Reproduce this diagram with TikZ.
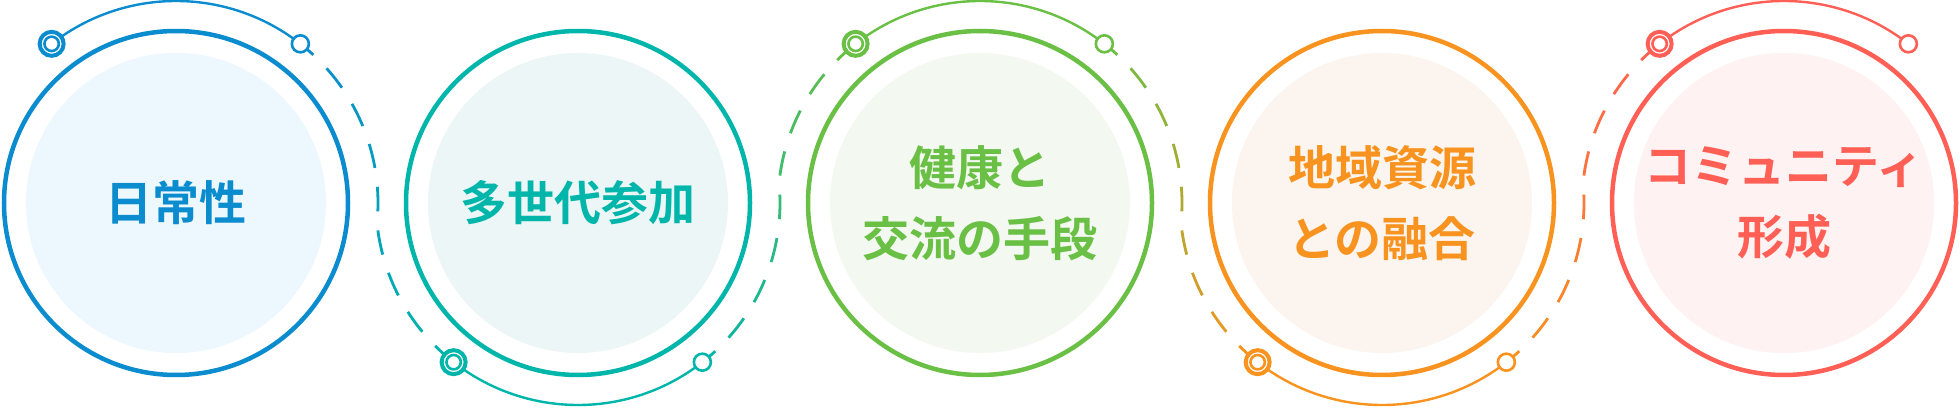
\documentclass[tikz,border=0pt]{standalone}
\usepackage{fontspec}
\newfontfamily\jpfont{Noto Sans CJK JP}[BoldFont={Noto Sans CJK JP Bold}]
\usetikzlibrary{positioning,backgrounds}

\definecolor{ink1}{HTML}{0A8CCF}
\definecolor{ink2}{HTML}{00B5AA}
\definecolor{ink3}{HTML}{6ABF45}
\definecolor{ink4}{HTML}{F7931E}
\definecolor{ink5}{HTML}{FF5F55}
\definecolor{tint1}{HTML}{EDF7FE}
\definecolor{tint2}{HTML}{ECF6F6}
\definecolor{tint3}{HTML}{F3F8F1}
\definecolor{tint4}{HTML}{FCF5EF}
\definecolor{tint5}{HTML}{FFF2F2}

\begin{document}
\begin{tikzpicture}[x=0.5pt,y=0.5pt,
    disc/.style={circle,fill=#1,minimum size=150pt,inner sep=0pt,align=center,
      font=\jpfont\bfseries\fontsize{23.5pt}{35.5pt}\selectfont},
    ring/.style={circle,draw=#1,line width=2.25pt,minimum size=172pt,inner sep=0pt},
    orbit/.style={draw=#1,line width=1.2pt},
    pin/.style={circle,draw=#1,fill=white,line width=1.3pt,minimum size=8.5pt,inner sep=0pt},
    hub/.style={circle,draw=#1,fill=white,line width=2pt,minimum size=12pt,inner sep=0pt,
      path picture={\draw[#1,line width=1.3pt] (path picture bounding box.center) circle[radius=3.6pt];}}]
    \useasboundingbox (0,-204) rectangle (1960,203);

    % Discs with labels
    \node[disc=tint1,text=ink1] (txt1) at (176,0) {日常性};
    \node[disc=tint2,text=ink2] (txt2) at (578,0) {多世代参加};
    \node[disc=tint3,text=ink3] (txt3) at (980,0) {健康と\\交流の手段};
    \node[disc=tint4,text=ink4] (txt4) at (1382,0) {地域資源\\との融合};
    \node[disc=tint5,text=ink5] (txt5) at (1784,0) {コミュニティ\\形成};

    % Rings
    \node[ring=ink1] (ring1) at (txt1) {};
    \node[ring=ink2] (ring2) at (txt2) {};
    \node[ring=ink3] (ring3) at (txt3) {};
    \node[ring=ink4] (ring4) at (txt4) {};
    \node[ring=ink5] (ring5) at (txt5) {};

    % Orbit ends
    \node[hub=ink1] (hub1) at ([shift={(128:202)}]ring1.center) {};
    \node[pin=ink1] (pin1) at ([shift={(52:202)}]ring1.center) {};
    \node[hub=ink2] (hub2) at ([shift={(232:202)}]ring2.center) {};
    \node[pin=ink2] (pin2) at ([shift={(308:202)}]ring2.center) {};
    \node[hub=ink3] (hub3) at ([shift={(128:202)}]ring3.center) {};
    \node[pin=ink3] (pin3) at ([shift={(52:202)}]ring3.center) {};
    \node[hub=ink4] (hub4) at ([shift={(232:202)}]ring4.center) {};
    \node[pin=ink4] (pin4) at ([shift={(308:202)}]ring4.center) {};
    \node[hub=ink5] (hub5) at ([shift={(128:202)}]ring5.center) {};
    \node[pin=ink5] (pin5) at ([shift={(52:202)}]ring5.center) {};

    \begin{scope}[on background layer]
      \fill[white] (0,-204) rectangle (1960,203);
      % Solid orbits
      \draw[orbit=ink1] (hub1.center) arc[start angle=128,end angle=52,radius=101pt];
      \draw[orbit=ink2] (hub2.center) arc[start angle=232,end angle=308,radius=101pt];
      \draw[orbit=ink3] (hub3.center) arc[start angle=128,end angle=52,radius=101pt];
      \draw[orbit=ink4] (hub4.center) arc[start angle=232,end angle=308,radius=101pt];
      \draw[orbit=ink5] (hub5.center) arc[start angle=128,end angle=52,radius=101pt];

      % Dashed links from pin to next hub, colour blends along the way
      \foreach \i/\j/\sg in {1/2/1,2/3/-1,3/4/1,4/5/-1}
        \foreach \s in {-2.2,10.2,22.6,35,47.4,59.8,72.2,84.6,97}{
          \pgfmathsetmacro\send{min(\s+7,104)}
          \pgfmathtruncatemacro\mixp{100-(\s+3.5)*100/104}
          \ifdim\s pt<57.7pt
            \pgfmathsetmacro\angA{\sg*(52-(\s))}
            \pgfmathsetmacro\angB{\sg*(52-(\send))}
            \draw[line width=1.4pt,ink\i!\mixp!ink\j] ([shift={(\angA:202)}]ring\i.center)
              arc[start angle=\angA,end angle=\angB,radius=101pt];
          \else
            \pgfmathsetmacro\angA{\sg*(128+\s)}
            \pgfmathsetmacro\angB{\sg*(128+\send)}
            \draw[line width=1.4pt,ink\i!\mixp!ink\j] ([shift={(\angA:202)}]ring\j.center)
              arc[start angle=\angA,end angle=\angB,radius=101pt];
          \fi
        }
    \end{scope}
\end{tikzpicture}
\end{document}
